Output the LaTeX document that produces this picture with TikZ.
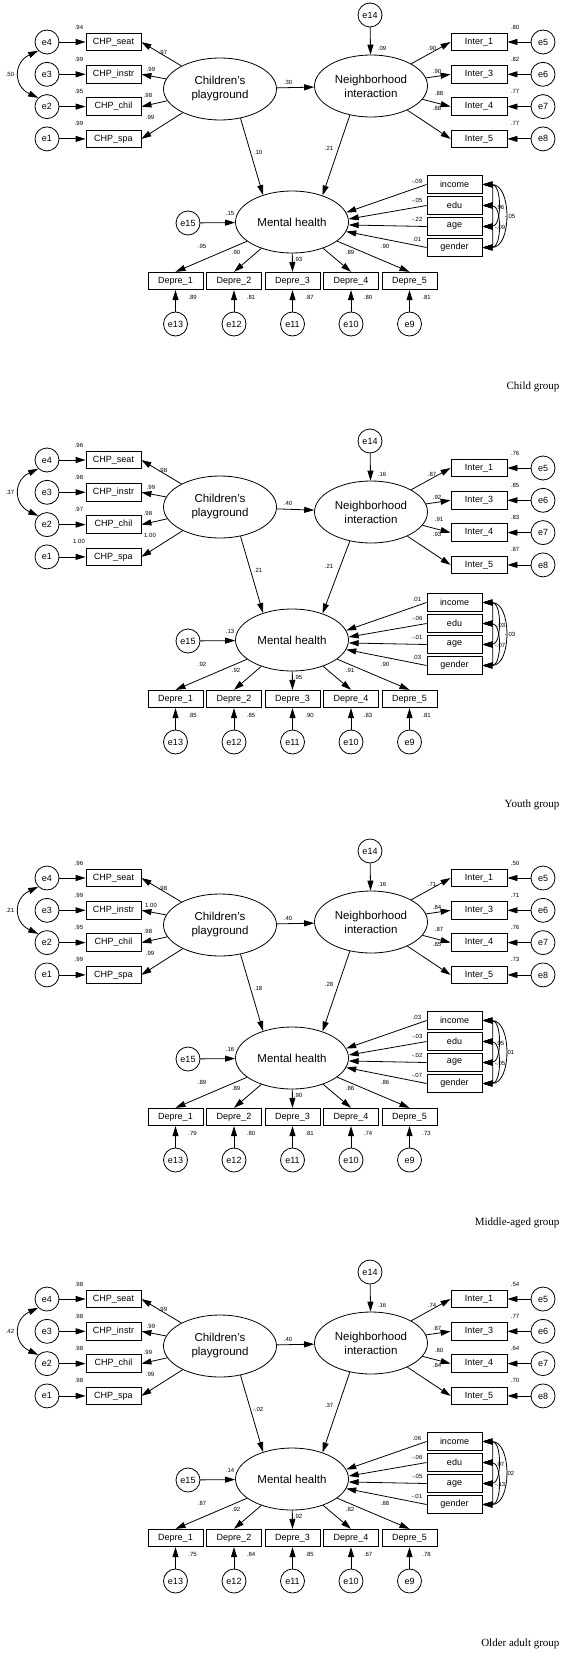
\documentclass[tikz,border=0pt]{standalone}
\usepackage{fontspec}
\setmainfont{Liberation Serif}
\setsansfont{Liberation Sans}
\usetikzlibrary{arrows.meta,shapes.geometric}

\tikzset{
  obs/.style={draw, rectangle, line width=0.8pt, minimum width=55pt, minimum height=17.5pt, inner sep=0pt, font=\sffamily\fontsize{9}{9}\selectfont},
  lat/.style={draw, ellipse, line width=0.8pt, minimum width=113pt, minimum height=62pt, inner sep=0pt, align=center, font=\sffamily\fontsize{11.5}{14}\selectfont},
  err/.style={draw, circle, line width=0.8pt, minimum size=24pt, inner sep=0pt, font=\sffamily\fontsize{9}{9}\selectfont},
  coef/.style={inner sep=0pt, font=\sffamily\fontsize{6}{6}\selectfont},
  arr/.style={line width=0.8pt, -{Triangle[length=10pt,width=6pt]}},
  cov/.style={line width=0.8pt, {Triangle[length=10pt,width=6pt]}-{Triangle[length=10pt,width=6pt]}},
  grp/.style={anchor=east, font=\rmfamily\fontsize{11}{11}\selectfont}
}

\newcommand{\chpname}[1]{\ifcase#1\or seat\or instr\or chil\or spa\fi}
\newcommand{\intername}[1]{\ifcase#1\or 1\or 3\or 4\or 5\fi}
\newcommand{\cvname}[1]{\ifcase#1\or income\or edu\or age\or gender\fi}
% label spots of the loadings
\def\cpldx{{163,151,148,150}} \def\cpldy{{52,69,95,117}}
\def\nildx{{432,437,439,437}} \def\nildy{{48,71,93,108}}
\def\dpldx{{202,236,298,350,385}} \def\dpldy{{246,252,259,252,246}}
\def\cvangs{{10,3,-3,-10}}

% #1 y offset, #2 extra shift of the right block, #3 group,
% #4 e4-e2 covariance and covariate covariances, #5 CHP R2/loading,
% #6 structural paths, #7 Inter loading/R2, #8 covariate paths, #9 Depre loading/R2
\newcommand{\sempanel}[9]{%
\foreach \pcn/\rni/\pcm/\pnm/\rmh in {#6} {
\foreach \ecov/\cva/\cvb/\cvc in {#4} {
\begin{scope}[shift={(0,#1)}, name prefix=g#1-]
  % children's playground
  \node[lat] (cp) at (220,89) {Children's\\playground};
  \foreach \rr/\ld [count=\i] in {#5} {
    \pgfmathsetmacro\yy{9.7+32.3*\i}
    \node[obs] (chp\i) at (113.5,\yy) {CHP\_\chpname{\i}};
    \node[err] (el\i) at (47,\yy) {e\the\numexpr5-\i\relax};
    \draw[arr] (el\i) -- (chp\i);
    \draw[arr] (cp) -- (chp\i.east);
    \node[coef] at (79,\yy-15) {\rr};
    \node[coef] at ({\cpldx[\i-1]},{\cpldy[\i-1]}) {\ld};
  }
  \draw[cov] (el1.225) to[out=205,in=155,looseness=1.5] (el3.135);
  \node[coef] at (10,74) {\ecov};
  % neighborhood interaction
  \begin{scope}[shift={(0,#2)}]
    \node[lat] (ni) at (371,86) {Neighborhood\\interaction};
    \node[err] (e14) at (370,15) {e14};
    \draw[arr] (e14) -- (ni);
    \node[coef] at (382,48) {\rni};
    \foreach \ld/\rr [count=\i] in {#7} {
      \pgfmathsetmacro\yy{9.7+32.3*\i}
      \node[obs, minimum width=56pt] (it\i) at (479,\yy) {Inter\_\intername{\i}};
      \node[err] (er\i) at (543,\yy) {e\the\numexpr4+\i\relax};
      \draw[arr] (er\i) -- (it\i);
      \draw[arr] (ni) -- (it\i.west);
      \node[coef] at (515,\yy-15) {\rr};
      \node[coef] at ({\nildx[\i-1]},{\nildy[\i-1]}) {\ld};
    }
  \end{scope}
  \draw[arr] (cp) -- (ni) node[coef, pos=0.3, above=3pt] {\pcn};
  % mental health
  \node[lat] (mh) at (292,222) {Mental health};
  \node[err] (e15) at (188,223) {e15};
  \draw[arr] (e15) -- (mh);
  \node[coef] at (230,213) {\rmh};
  \draw[arr] (cp.-55) -- (mh.137);
  \draw[arr] (ni.-126) -- (mh.41);
  \node[coef] at (258,152) {\pcm};
  \node[coef] at (329,148) {\pnm};
  \foreach \ld [count=\i] in {#8} {
    \pgfmathtruncatemacro\ang{\cvangs[\i-1]}
    \node[obs] (cv\i) at (454.5,163.5+21*\i) {\cvname{\i}};
    \draw[arr] (cv\i.west) -- (mh.\ang) node[coef, pos=0.12, above=4pt] {\ld};
  }
  \draw[cov] (cv1.east) to[out=0,in=0,looseness=1.3] (cv2.east);
  \draw[cov] (cv2.east) to[out=0,in=0,looseness=1.3] (cv3.east);
  \draw[cov] (cv3.east) to[out=0,in=0,looseness=1.3] (cv4.east);
  \draw[cov] (cv1.east) to[out=0,in=0,looseness=1.2] (cv3.east);
  \draw[cov] (cv2.east) to[out=0,in=0,looseness=1.2] (cv4.east);
  \draw[cov] (cv1.east) to[out=0,in=0,looseness=1.2] (cv4.east);
  \node[coef] at (500,207) {\cva};
  \node[coef] at (510,216) {\cvb};
  \node[coef] at (500,227) {\cvc};
  \foreach \ld/\rr [count=\i] in {#9} {
    \pgfmathsetmacro\xx{117+58.5*\i}
    \node[obs] (dp\i) at (\xx,281) {Depre\_\i};
    \node[err] (ed\i) at (\xx,324) {e\the\numexpr14-\i\relax};
    \draw[arr] (mh) -- (dp\i.north);
    \draw[arr] (ed\i) -- (dp\i);
    \node[coef] at (\xx+17,297) {\rr};
    \node[coef] at ({\dpldx[\i-1]},{\dpldy[\i-1]}) {\ld};
  }
  \node[grp] (lbl) at (563,387) {#3};
\end{scope}
}}}

\begin{document}
\begin{tikzpicture}[x=1pt, y=-1pt]
  \useasboundingbox (0,0) rectangle (566,1653);
  \sempanel{0}{0}{Child group}{.50/.06/-.05/-.09}{.94/.97,.99/.99,.95/.98,.99/.99}{.30/.09/.10/.21/.15}{.90/.80,.90/.82,.88/.77,.88/.77}{-.09,-.05,-.22,.01}{.95/.89,.90/.81,.93/.87,.89/.80,.90/.81}
  \sempanel{418}{8}{Youth group}{.37/-.03/-.03/-.07}{.96/.98,.98/.99,.97/.98,1.00/1.00}{.40/.16/.21/.21/.13}{.87/.76,.92/.85,.91/.83,.93/.87}{.01,-.06,-.01,.03}{.92/.85,.92/.85,.95/.90,.91/.83,.90/.81}
  \sempanel{836}{0}{Middle-aged group}{.21/.05/.01/-.05}{.96/.98,.99/1.00,.95/.98,.99/.99}{.40/.16/.18/.28/.16}{.71/.50,.84/.71,.87/.76,.85/.73}{.03,-.03,-.02,-.07}{.89/.79,.89/.80,.90/.81,.86/.74,.86/.73}
  \sempanel{1257}{0}{Older adult group}{.42/.07/.02/-.13}{.98/.99,.98/.99,.98/.99,.98/.99}{.40/.16/-.02/.37/.14}{.74/.54,.87/.77,.80/.64,.84/.70}{.06,-.06,-.05,-.01}{.87/.75,.92/.84,.92/.85,.82/.67,.88/.78}
\end{tikzpicture}
\end{document}
